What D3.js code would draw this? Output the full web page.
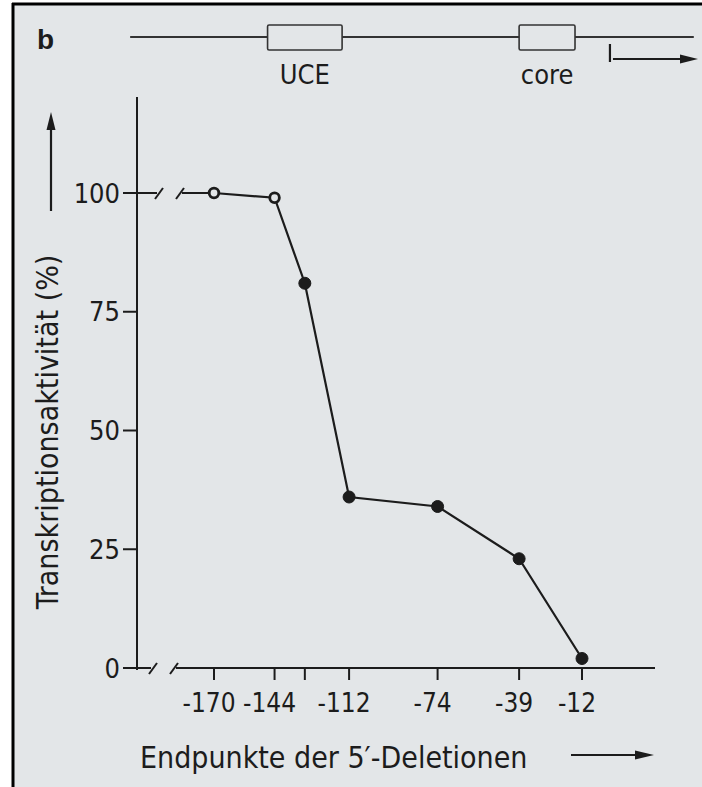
<!DOCTYPE html>
<html lang="de">
<head>
<meta charset="utf-8">
<title>Transkriptionsaktivität</title>
<script src="https://d3js.org/d3.v7.min.js"></script>
<style>
  body { margin: 0; background: #fff; }
  text { font-family: "Liberation Sans Narrow", "DejaVu Sans Condensed", sans-serif; fill: #1c1c1c; }
</style>
</head>
<body>
<script>
// data
var positions = [-170, -144, -131, -112, -74, -39, -12];
var activity = [100, 99, 81, 36, 34, 23, 2];
var openMarker = [true, true, false, false, false, false, false];
var tickLabels = ["-170", "-144", "", "-112", "-74", "-39", "-12"];
var yTicks = [0, 25, 50, 75, 100];

// promoter map (same coordinate as the x axis, 0 = start site)
var mapLine = [-206, 36];
var uce = [-147, -115];
var core = [-39, -15];
var startSite = 0;

var w = 702, h = 787;
var ink = "#1c1c1c";
var paper = "#e3e6e8";

var x = d3.scaleLinear().domain([-170, -12]).range([214, 582]);
var y = d3.scaleLinear().domain([0, 100]).range([668, 193]);
var axisX = 137;

var svg = d3.select("body").append("svg")
  .attr("width", w)
  .attr("height", h);

// paper + scanned border
svg.append("rect").attr("x", 13).attr("y", 4).attr("width", w - 13).attr("height", h - 4)
  .attr("fill", paper);
svg.append("line").attr("x1", 13).attr("x2", 13).attr("y1", 3).attr("y2", h)
  .attr("stroke", "#000").attr("stroke-width", 3);
svg.append("line").attr("x1", 12).attr("x2", w).attr("y1", 4).attr("y2", 4)
  .attr("stroke", "#000").attr("stroke-width", 3);

// ---- promoter map ----
var mapY = 37;
svg.append("text").attr("x", 37).attr("y", 49)
  .style("font-family", "'Liberation Sans', Arial, sans-serif")
  .attr("font-weight", "bold").attr("font-size", 28).text("b");

svg.append("line")
  .attr("x1", x(mapLine[0])).attr("x2", x(mapLine[1]))
  .attr("y1", mapY).attr("y2", mapY)
  .attr("stroke", "#333").attr("stroke-width", 2);

[[uce, "UCE"], [core, "core"]].forEach(function(b) {
  svg.append("rect")
    .attr("x", x(b[0][0])).attr("y", mapY - 12)
    .attr("width", x(b[0][1]) - x(b[0][0])).attr("height", 25)
    .attr("rx", 1.5)
    .attr("fill", paper).attr("stroke", "#333").attr("stroke-width", 1.6);
  svg.append("text")
    .attr("x", (x(b[0][0]) + x(b[0][1])) / 2).attr("y", 84)
    .attr("text-anchor", "middle").attr("font-size", 27)
    .text(b[1]);
});

// transcription start arrow
svg.append("line")
  .attr("x1", x(startSite)).attr("x2", x(startSite))
  .attr("y1", 44).attr("y2", 62)
  .attr("stroke", ink).attr("stroke-width", 2.2);
svg.append("line")
  .attr("x1", x(startSite) + 3).attr("x2", 684)
  .attr("y1", 59).attr("y2", 59)
  .attr("stroke", ink).attr("stroke-width", 2.2);
svg.append("path").attr("d", "M680,54.5 L698,59 L680,63.5 Z").attr("fill", ink);

// ---- axes ----
var g = svg.append("g");

// y axis line
g.append("line")
  .attr("x1", axisX).attr("x2", axisX)
  .attr("y1", 97).attr("y2", y(0) + 2)
  .attr("stroke", ink).attr("stroke-width", 2);

g.selectAll(".ytick").data(yTicks).enter().append("line")
  .attr("x1", axisX - 14).attr("x2", axisX)
  .attr("y1", function(d) { return y(d); })
  .attr("y2", function(d) { return y(d); })
  .attr("stroke", ink).attr("stroke-width", 2);

g.selectAll(".ylab").data(yTicks).enter().append("text")
  .attr("x", axisX - 17)
  .attr("y", function(d) { return y(d); })
  .attr("dy", "0.36em")
  .attr("text-anchor", "end")
  .attr("font-size", 27)
  .text(function(d) { return d; });

// x axis line, with break next to the y axis
var breakA = 153, breakB = 174;
g.append("line")
  .attr("x1", axisX).attr("x2", breakA - 2)
  .attr("y1", y(0)).attr("y2", y(0))
  .attr("stroke", ink).attr("stroke-width", 2);
g.append("line")
  .attr("x1", breakB + 2).attr("x2", 655)
  .attr("y1", y(0)).attr("y2", y(0))
  .attr("stroke", ink).attr("stroke-width", 2);

// the 100 % level, broken the same way
g.append("line")
  .attr("x1", axisX).attr("x2", breakA + 4)
  .attr("y1", y(100)).attr("y2", y(100))
  .attr("stroke", ink).attr("stroke-width", 2);
g.append("line")
  .attr("x1", breakB + 8).attr("x2", x(positions[0]))
  .attr("y1", y(100)).attr("y2", y(100))
  .attr("stroke", ink).attr("stroke-width", 2);

[y(0), y(100)].forEach(function(yy) {
  [breakA + (yy === y(100) ? 6 : 0), breakB + (yy === y(100) ? 6 : 0)].forEach(function(bx) {
    g.append("line")
      .attr("x1", bx - 4).attr("x2", bx + 4)
      .attr("y1", yy + 6).attr("y2", yy - 5)
      .attr("stroke", ink).attr("stroke-width", 2);
  });
});

g.selectAll(".xtick").data(positions).enter().append("line")
  .attr("x1", function(d) { return x(d); })
  .attr("x2", function(d) { return x(d); })
  .attr("y1", y(0)).attr("y2", y(0) + 12)
  .attr("stroke", ink).attr("stroke-width", 2);

g.selectAll(".xlab").data(positions).enter().append("text")
  .attr("x", function(d) { return x(d); })
  .attr("y", 712)
  .attr("dx", -5)
  .attr("text-anchor", "middle")
  .attr("font-size", 26)
  .text(function(d, i) { return tickLabels[i]; });

// axis titles with arrows
svg.append("text")
  .attr("transform", "translate(58,432) rotate(-90)")
  .attr("text-anchor", "middle")
  .attr("font-size", 30)
  .text("Transkriptionsaktivität (%)");
svg.append("line").attr("x1", 51).attr("x2", 51).attr("y1", 211).attr("y2", 128)
  .attr("stroke", ink).attr("stroke-width", 2.2);
svg.append("path").attr("d", "M46.5,130 L51,112 L55.5,130 Z").attr("fill", ink);

svg.append("text")
  .attr("x", 140).attr("y", 768)
  .attr("font-size", 30)
  .text("Endpunkte der 5\u2032-Deletionen");
svg.append("line").attr("x1", 571).attr("x2", 638).attr("y1", 755).attr("y2", 755)
  .attr("stroke", ink).attr("stroke-width", 2.2);
svg.append("path").attr("d", "M635,750.5 L654,755 L635,759.5 Z").attr("fill", ink);

// ---- data line and markers ----
var pts = positions.map(function(p, i) {
  return { x: p, v: activity[i], open: openMarker[i] };
});

svg.append("path")
  .datum(pts)
  .attr("fill", "none")
  .attr("stroke", ink)
  .attr("stroke-width", 2.2)
  .attr("d", d3.line()
    .x(function(d) { return x(d.x); })
    .y(function(d) { return y(d.v); }));

svg.selectAll(".pt").data(pts).enter().append("circle")
  .attr("cx", function(d) { return x(d.x); })
  .attr("cy", function(d) { return y(d.v); })
  .attr("r", function(d) { return d.open ? 4.8 : 6; })
  .attr("fill", function(d) { return d.open ? paper : ink; })
  .attr("stroke", ink)
  .attr("stroke-width", function(d) { return d.open ? 2.8 : 1; });
</script>
</body>
</html>
